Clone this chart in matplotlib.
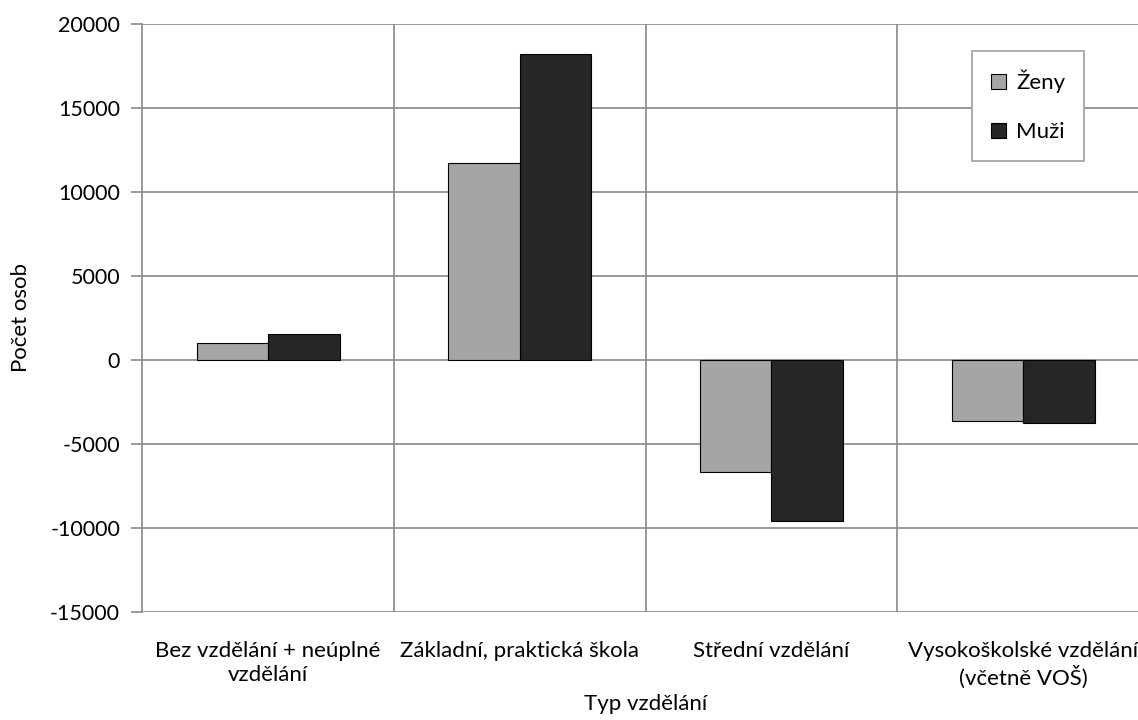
import matplotlib
matplotlib.use("Agg")
import matplotlib.pyplot as plt
import numpy as np

categories = ["Bez vzdělání + neúplné\nvzdělání", "Základní, praktická škola",
              "Střední vzdělání", "Vysokoškolské vzdělání\n(včetně VOŠ)"]
zeny = [1000, 11700, -6680, -3600]
muzi = [1560, 18200, -9600, -3770]
series_names = ["Ženy", "Muži"]
yticks = [-15000, -10000, -5000, 0, 5000, 10000, 15000, 20000]

plt.rcParams['font.family'] = ['Lato', 'DejaVu Sans']
FS = 16.0
W, H = 1138, 720
fig = plt.figure(figsize=(W/100, H/100), dpi=100)
l, r, t, b = 142.3, 1149, 23.7, 612.3
ax = fig.add_axes([l/W, 1-b/H, (r-l)/W, (b-t)/H])

grid_c = '#878787'
x = np.arange(len(categories))
bw = 0.284
ax.bar(x - bw/2, zeny, bw, color='#A5A5A5', edgecolor='#000000', linewidth=0.8,
       label=series_names[0], zorder=3)
ax.bar(x + bw/2, muzi, bw, color='#262626', edgecolor='#000000', linewidth=0.8,
       label=series_names[1], zorder=3)

ax.set_xlim(-0.5, 3.5)
ax.set_ylim(-15000, 20000)
ax.set_yticks(yticks)
ax.set_yticklabels([str(v) for v in yticks], fontsize=15.5)
ax.set_xticks(x)
ax.set_xticklabels(categories, fontsize=FS, linespacing=1.2)
ax.tick_params(axis='x', length=0, pad=21)
ax.tick_params(axis='y', length=8, color=grid_c, width=1.2, pad=8)

for yv in yticks:
    ax.axhline(yv, color=grid_c, linewidth=1.2, zorder=1)
for xv in [0.5, 1.5, 2.5]:
    ax.axvline(xv, color=grid_c, linewidth=1.2, zorder=1)
for s in ['top', 'right', 'bottom']:
    ax.spines[s].set_visible(False)
ax.spines['left'].set_color(grid_c)
ax.spines['left'].set_linewidth(1.2)

ax.set_xlabel("Typ vzdělání", fontsize=FS, labelpad=4)
ax.set_ylabel("Počet osob", fontsize=FS, labelpad=14)

leg = ax.legend(loc='upper left', bbox_to_anchor=(972/W, 1-51/H),
                bbox_transform=fig.transFigure, fontsize=FS, frameon=True,
                fancybox=False, edgecolor='#A0A0A0', framealpha=1,
                handlelength=0.7, handleheight=0.7, handletextpad=0.45,
                labelspacing=1.3, borderpad=0.85, borderaxespad=0)
leg.get_frame().set_linewidth(1.2)
leg.set_zorder(5)

fig.savefig("out.png", dpi=100)
